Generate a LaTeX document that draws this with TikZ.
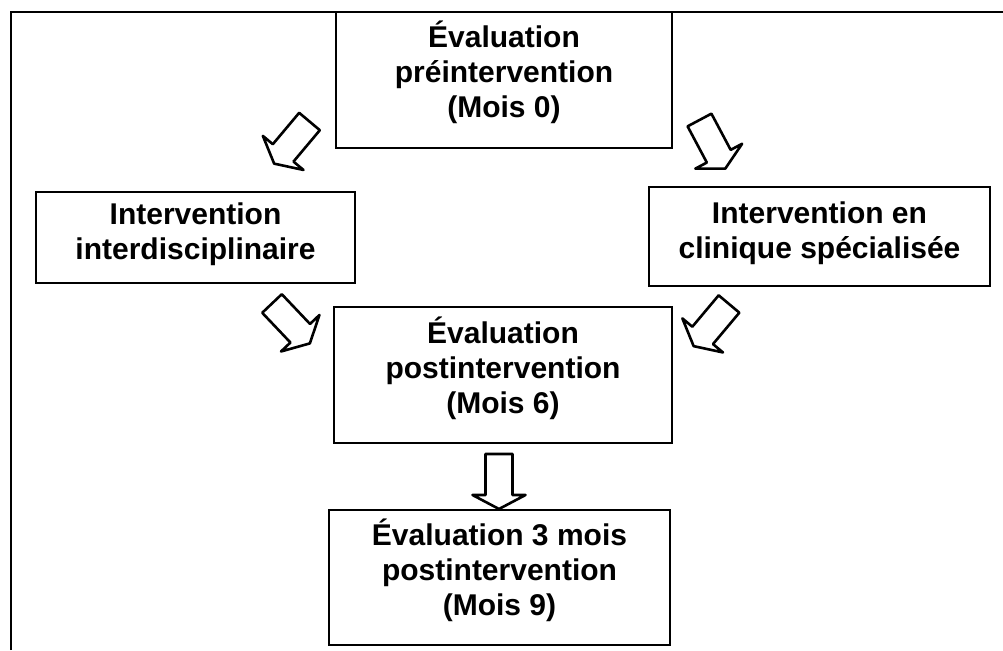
\documentclass[tikz,border=0pt]{standalone}
\usepackage{fontspec}
\setmainfont{Liberation Sans}
\tikzset{
  box/.style={draw, line width=2.6pt, inner sep=0pt},
  txt/.style={font=\bfseries\fontsize{30}{35}\selectfont, align=center, inner sep=0pt},
  arrowline/.style={draw, line width=2.6pt, line join=round, fill=white},
  blockarrow/.pic={\path[arrowline] (0,-13.5) -- (41,-13.5) -- (41,-26.5) -- (55,0) -- (41,26.5) -- (41,13.5) -- (0,13.5) -- cycle;},
  frameline/.style={line width=2.6pt}
}
\begin{document}
\begin{tikzpicture}[x=1pt,y=-1pt]
\useasboundingbox (0,0) rectangle (1003,650);
% outer frame
\coordinate (fbl) at (11,650);
\coordinate (ftl) at (11,12);
\coordinate (ftr) at (1003,12);
\draw[frameline] (fbl) -- (ftl) -- (ftr);
% boxes
\node[box, minimum width=336pt, minimum height=136pt] (pre) at (504,80) {};
\node[box, minimum width=319pt, minimum height=91pt] (inter) at (195.5,237.5) {};
\node[box, minimum width=341pt, minimum height=99pt] (clin) at (819.5,236.5) {};
\node[box, minimum width=338pt, minimum height=136pt] (post) at (503,375) {};
\node[box, minimum width=341pt, minimum height=135pt] (suivi) at (499.5,577.5) {};
% texts
\node[txt, yshift=8pt] (pret) at (pre.center) {Évaluation\\préintervention\\(Mois 0)};
\node[txt, yshift=3pt] (intert) at (inter.center) {Intervention\\interdisciplinaire};
\node[txt, yshift=3pt] (clint) at (clin.center) {Intervention en\\clinique spécialisée};
\node[txt, yshift=7pt] (postt) at (post.center) {Évaluation\\postintervention\\(Mois 6)};
\node[txt, yshift=7pt] (suivit) at (suivi.center) {Évaluation 3 mois\\postintervention\\(Mois 9)};
% block arrows
\pic[rotate=230] at (309.5,121.5) {blockarrow};
\pic[rotate=-62] at (699.5,120) {blockarrow};
\pic[rotate=-46.5] at (272,303.5) {blockarrow};
\pic[rotate=230] at (729,304) {blockarrow};
\pic[rotate=-90] at (499,454) {blockarrow};
\end{tikzpicture}
\end{document}
